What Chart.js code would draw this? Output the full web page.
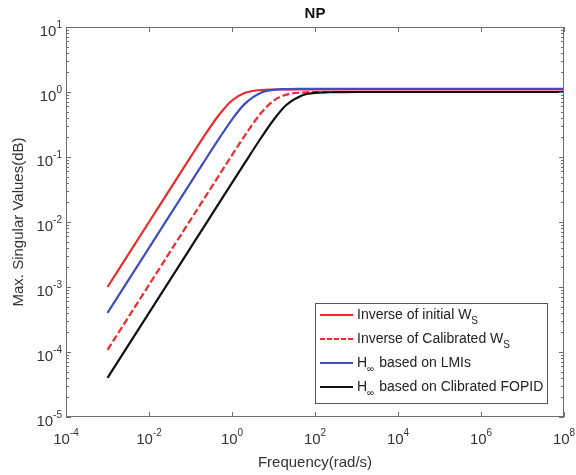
<!DOCTYPE html>
<html>
<head>
<meta charset="utf-8">
<script src="https://cdn.jsdelivr.net/npm/chart.js@4.4.1/dist/chart.umd.min.js"></script>
<style>
  html, body { margin: 0; padding: 0; background: #fff; }
  #wrap { width: 576px; height: 475px; }
</style>
</head>
<body>
<div id="wrap"><canvas id="npChart" width="576" height="475"></canvas></div>
<script>
// ================================
// NP - MAX SINGULAR VALUES
// ================================

const freq = [1e-3, 1e-2, 0.1, 0.2, 0.5, 1, 2, 5, 10, 20, 50, 100, 200, 500, 1e3, 1e4, 1e5, 1e6, 1e7, 1e8];

const invInitialWs    = [1.0e-3, 1.0e-2, 0.0996, 0.197, 0.455, 0.740, 0.964, 1.074, 1.093, 1.098, 1.1, 1.1, 1.1, 1.1, 1.1, 1.1, 1.1, 1.1, 1.1, 1.1];
const invCalibratedWs = [1.08e-4, 1.08e-3, 0.0108, 0.0215, 0.0537, 0.107, 0.210, 0.474, 0.732, 0.907, 0.983, 0.996, 0.999, 1.0, 1.0, 1.0, 1.0, 1.0, 1.0, 1.0];
const hinfLMIs        = [4.0e-4, 4.0e-3, 0.0400, 0.0798, 0.197, 0.377, 0.651, 0.977, 1.078, 1.109, 1.118, 1.12, 1.12, 1.12, 1.12, 1.12, 1.12, 1.12, 1.12, 1.12];
const hinfFOPID       = [4.0e-5, 4.0e-4, 4.0e-3, 8.0e-3, 0.0200, 0.0400, 0.0797, 0.196, 0.371, 0.625, 0.894, 0.970, 0.992, 0.999, 1.0, 1.0, 1.0, 1.0, 1.0, 1.0];

const xTicks = [1e-4, 1e-2, 1e0, 1e2, 1e4, 1e6, 1e8];
const yTicks = [1e-5, 1e-4, 1e-3, 1e-2, 1e-1, 1e0, 1e1];

// legend text: "_{...}" marks a subscript
const seriesNames = [
    "Inverse of initial W_{S}",
    "Inverse of Calibrated W_{S}",
    "H_{\u221E} based on LMIs",
    "H_{\u221E} based on Clibrated FOPID"
];

const FONT = "'Liberation Sans', Arial, sans-serif";
const AXIS_COLOR = "#6e6e6e";
const TEXT_COLOR = "#333";

const toPoints = vals => freq.map((f, i) => ({ x: f, y: vals[i] }));

const seriesStyles = [
    { data: invInitialWs,    color: "#ee2a2a", dash: [],     order: 4 },
    { data: invCalibratedWs, color: "#ee2a2a", dash: [7, 3], order: 3 },
    { data: hinfLMIs,        color: "#3d4fbf", dash: [],     order: 2 },
    { data: hinfFOPID,       color: "#111111", dash: [],     order: 1 }
];

// split "abc_{S}def" into parts
function parseRich(text) {
    const parts = [];
    const re = /_\{([^}]*)\}/g;
    let last = 0, m;
    while ((m = re.exec(text)) !== null) {
        if (m.index > last) parts.push({ t: text.slice(last, m.index), sub: false });
        parts.push({ t: m[1], sub: true });
        last = re.lastIndex;
    }
    if (last < text.length) parts.push({ t: text.slice(last), sub: false });
    return parts;
}

function drawPower(ctx, value, x, y, align) {
    const exp = String(Math.round(Math.log10(value)));
    ctx.font = "15px " + FONT;
    const wBase = ctx.measureText("10").width;
    ctx.font = "10px " + FONT;
    const wExp = ctx.measureText(exp).width;
    const total = wBase + wExp;
    let start = align === "center" ? x - total / 2 : x - total;
    ctx.textAlign = "left";
    ctx.textBaseline = "alphabetic";
    ctx.fillStyle = TEXT_COLOR;
    ctx.font = "15px " + FONT;
    ctx.fillText("10", start, y);
    ctx.font = "10px " + FONT;
    ctx.fillText(exp, start + wBase, y - 8);
}

const npPlugin = {
    id: "npAxes",
    afterDatasetsDraw(chart) {
        const ctx = chart.ctx;
        const { left, right, top, bottom } = chart.chartArea;
        const xs = chart.scales.x;
        const ys = chart.scales.y;

        ctx.save();

        /* ------------------------------
           BOX + TICKS
        ------------------------------ */
        ctx.strokeStyle = AXIS_COLOR;
        ctx.lineWidth = 1;
        ctx.strokeRect(left + 0.5, top + 0.5, right - left - 1, bottom - top - 1);

        ctx.beginPath();
        xTicks.forEach(v => {
            const px = Math.round(xs.getPixelForValue(v)) + 0.5;
            ctx.moveTo(px, bottom); ctx.lineTo(px, bottom - 5);
            ctx.moveTo(px, top);    ctx.lineTo(px, top + 5);
        });
        yTicks.forEach((v, i) => {
            const py = Math.round(ys.getPixelForValue(v)) + 0.5;
            ctx.moveTo(left, py);  ctx.lineTo(left + 5, py);
            ctx.moveTo(right, py); ctx.lineTo(right - 5, py);
            if (i < yTicks.length - 1) {
                for (let k = 2; k <= 9; k++) {
                    const my = Math.round(ys.getPixelForValue(v * k)) + 0.5;
                    ctx.moveTo(left, my);  ctx.lineTo(left + 3, my);
                    ctx.moveTo(right, my); ctx.lineTo(right - 3, my);
                }
            }
        });
        ctx.stroke();

        /* ------------------------------
           TICK LABELS
        ------------------------------ */
        xTicks.forEach(v => drawPower(ctx, v, xs.getPixelForValue(v), bottom + 27, "center"));
        yTicks.forEach(v => drawPower(ctx, v, left - 4, ys.getPixelForValue(v) + 9, "right"));

        /* ------------------------------
           AXIS TITLES
        ------------------------------ */
        ctx.fillStyle = TEXT_COLOR;
        ctx.font = "15px " + FONT;
        ctx.textAlign = "center";
        ctx.textBaseline = "middle";
        ctx.fillText("Frequency(rad/s)", (left + right) / 2, bottom + 46);

        ctx.save();
        ctx.translate(19, (top + bottom) / 2);
        ctx.rotate(-Math.PI / 2);
        ctx.fillText("Max. Singular Values(dB)", 0, 0);
        ctx.restore();

        /* ------------------------------
           LEGEND
        ------------------------------ */
        const lx = 315, ly = 303, lw = 233, lh = 101;
        ctx.fillStyle = "#fff";
        ctx.fillRect(lx, ly, lw, lh);
        ctx.strokeStyle = "#555";
        ctx.strokeRect(lx + 0.5, ly + 0.5, lw - 1, lh - 1);

        seriesNames.forEach((name, i) => {
            const rowY = ly + 12 + i * 24;
            const st = seriesStyles[i];
            ctx.strokeStyle = st.color;
            ctx.lineWidth = 2;
            ctx.setLineDash(st.dash.length ? [5, 2] : []);
            ctx.beginPath();
            ctx.moveTo(lx + 5, rowY);
            ctx.lineTo(lx + 38, rowY);
            ctx.stroke();
            ctx.setLineDash([]);

            let tx = lx + 42;
            ctx.fillStyle = "#222";
            ctx.textAlign = "left";
            ctx.textBaseline = "middle";
            parseRich(name).forEach(p => {
                ctx.font = (p.sub ? "10px " : "14px ") + FONT;
                ctx.fillText(p.t, tx, p.sub ? rowY + 6 : rowY);
                tx += ctx.measureText(p.t).width + (p.sub ? 1 : 0);
            });
        });

        ctx.restore();
    }
};

new Chart(document.getElementById("npChart"), {
    type: "line",
    data: {
        datasets: seriesStyles.map((s, i) => ({
            label: seriesNames[i],
            data: toPoints(s.data),
            borderColor: s.color,
            borderDash: s.dash,
            borderWidth: 2.2,
            pointRadius: 0,
            fill: false,
            cubicInterpolationMode: "monotone",
            order: s.order
        }))
    },
    options: {
        responsive: false,
        animation: false,
        layout: { padding: { left: 66, right: 12, top: 0, bottom: 58 } },
        plugins: {
            legend: { display: false },
            tooltip: { enabled: false },
            title: {
                display: true,
                text: "NP",
                color: "#111",
                font: { family: FONT, size: 15, weight: "bold" },
                padding: { top: 5, bottom: 4 }
            }
        },
        scales: {
            x: { type: "logarithmic", min: 1e-4, max: 1e8, display: false },
            y: { type: "logarithmic", min: 1e-5, max: 1e1, display: false }
        }
    },
    plugins: [npPlugin]
});
</script>
</body>
</html>
